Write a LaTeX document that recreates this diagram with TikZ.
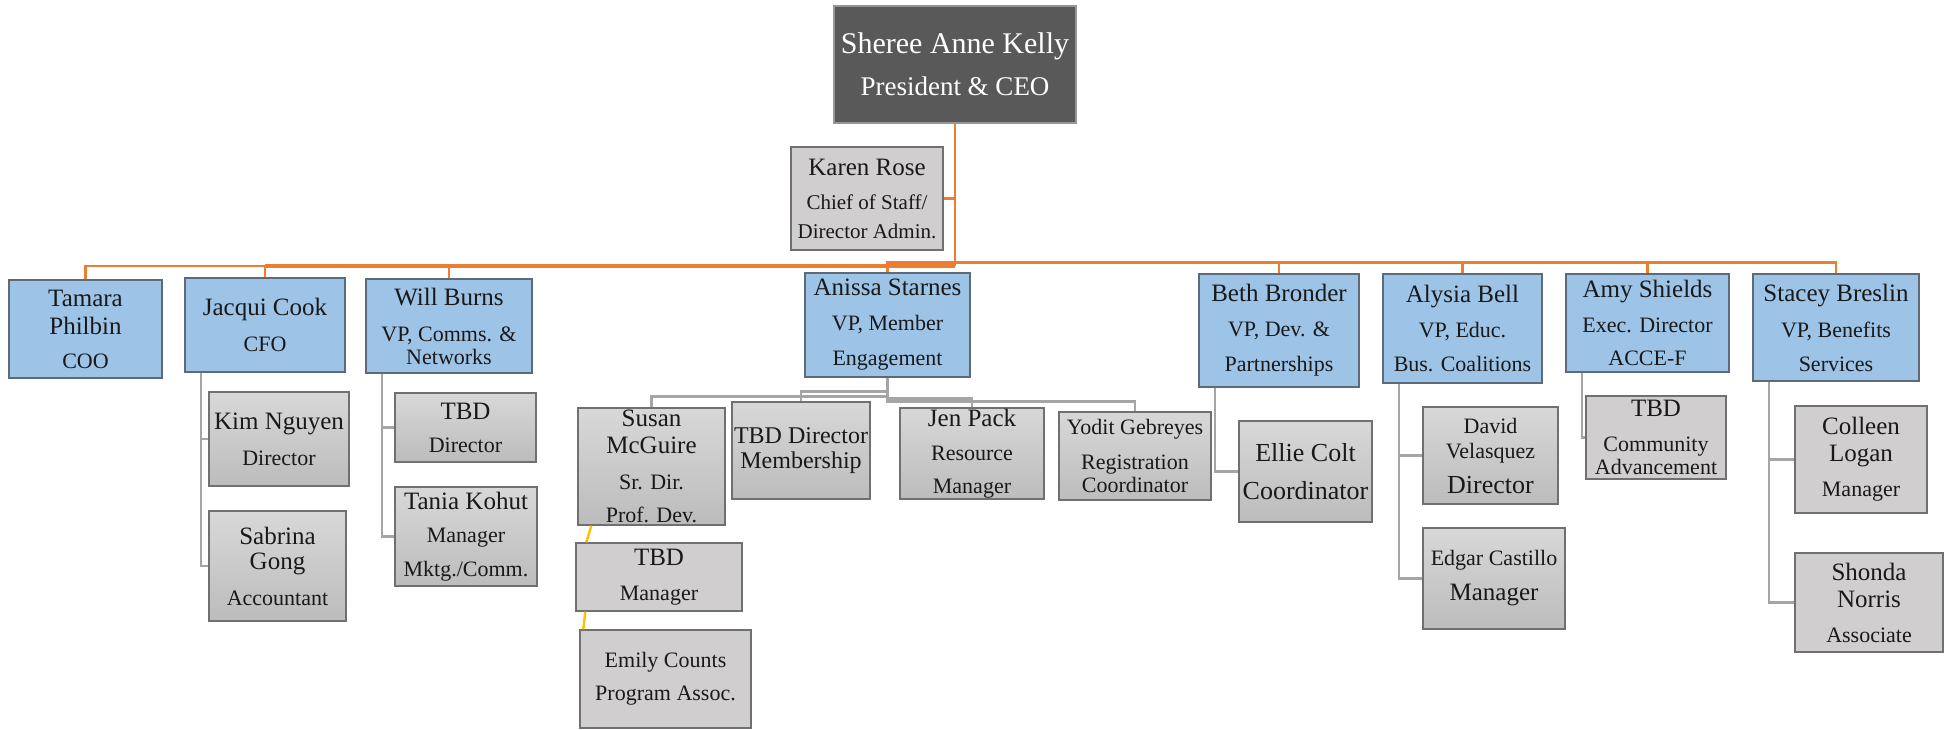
\documentclass[tikz,border=0pt]{standalone}
\usepackage{fontspec}
\setmainfont{Liberation Serif}
\usetikzlibrary{calc}
\definecolor{OrgBlue}{RGB}{157,195,230}
\definecolor{OrgBlueEdge}{RGB}{92,106,122}
\definecolor{BossGray}{RGB}{89,89,89}
\definecolor{BossEdge}{RGB}{150,150,150}
\definecolor{StaffTop}{RGB}{216,216,216}
\definecolor{StaffBottom}{RGB}{188,188,188}
\definecolor{StaffFlat}{RGB}{208,206,206}
\definecolor{StaffEdge}{RGB}{112,112,112}
\definecolor{LinkOrange}{RGB}{237,125,49}
\definecolor{LinkGray}{RGB}{165,165,165}
\definecolor{LinkGold}{RGB}{255,192,0}
\definecolor{InkBlack}{RGB}{25,25,25}
\newcommand{\tsz}{\fontsize{11}{12.5}\selectfont}
\newcommand{\bsz}{\fontsize{13}{12.5}\selectfont}
\newcommand{\orgbox}[7]{%
  \node[#2,minimum width={(#5-#3)*0.5pt},minimum height={(#6-#4)*0.5pt}] (#1) at ({(#3+#5)/2},{(#4+#6)/2}) {#7};}
\tikzset{
  orgnode/.style={rectangle,inner sep=0pt,align=center,text=InkBlack,line width=0.7pt,
    font=\fontsize{12.5}{12.5}\selectfont},
  ceobox/.style={orgnode,fill=BossGray,draw=BossEdge,text=white,font=\fontsize{15}{16}\selectfont},
  vpbox/.style={orgnode,fill=OrgBlue,draw=OrgBlueEdge},
  staffbox/.style={orgnode,top color=StaffTop,bottom color=StaffBottom,draw=StaffEdge},
  flatbox/.style={orgnode,fill=StaffFlat,draw=StaffEdge},
  orgline/.style={LinkOrange,line width=1.3pt},
  staffline/.style={LinkGray,line width=1.3pt},
  assistline/.style={LinkGold,line width=1.2pt}
}

\begin{document}
\begin{tikzpicture}[x=0.5pt,y=-0.5pt]
  \useasboundingbox (0,0) rectangle (1948,729);
  \orgbox{ceo}{ceobox}{834}{6}{1076}{123}{Sheree Anne Kelly\\[5pt]\fontsize{13.5}{16}\selectfont President \& CEO}
  \orgbox{karen}{flatbox}{791}{147}{943}{250}{Karen Rose\\[4.5pt]\fontsize{10.5}{12.5}\selectfont Chief of Staff/\\[2pt]\fontsize{10.5}{12.5}\selectfont Director Admin.}
  \orgbox{tamara}{vpbox}{9}{280}{162}{378}{Tamara\\[1.5pt]Philbin\\[4.5pt]\tsz COO}
  \orgbox{jacqui}{vpbox}{185}{278}{345}{372}{Jacqui Cook\\[5.5pt]\tsz CFO}
  \orgbox{will}{vpbox}{366}{279}{532}{373}{Will Burns\\[5.5pt]\tsz VP, Comms. \&\\[-1pt]\tsz Networks}
  \orgbox{anissa}{vpbox}{805}{273}{970}{377}{Anissa Starnes\\[5pt]\tsz VP, Member\\[5pt]\tsz Engagement}
  \orgbox{beth}{vpbox}{1199}{274}{1359}{387}{Beth Bronder\\[5pt]\tsz VP, Dev. \&\\[5pt]\tsz Partnerships}
  \orgbox{alysia}{vpbox}{1383}{274}{1542}{383}{Alysia Bell\\[5pt]\tsz VP, Educ.\\[4.5pt]\tsz Bus. Coalitions}
  \orgbox{amy}{vpbox}{1566}{274}{1729}{372}{Amy Shields\\[5pt]\tsz Exec. Director\\[4pt]\tsz ACCE-F}
  \orgbox{stacey}{vpbox}{1753}{274}{1919}{381}{Stacey Breslin\\[5.5pt]\tsz VP, Benefits\\[4.5pt]\tsz Services}
  \orgbox{kim}{staffbox}{209}{392}{349}{486}{Kim Nguyen\\[5.5pt]\tsz Director}
  \orgbox{sabrina}{staffbox}{209}{511}{346}{621}{Sabrina\\Gong\\[5.5pt]\tsz Accountant}
  \orgbox{tbddir}{staffbox}{395}{393}{536}{462}{TBD\\[4pt]\tsz Director}
  \orgbox{tania}{staffbox}{395}{487}{537}{586}{Tania Kohut\\[4pt]\tsz Manager\\[4.5pt]\tsz Mktg./Comm.}
  \orgbox{susan}{staffbox}{578}{408}{725}{525}{Susan\\[1pt]McGuire\\[5.5pt]\tsz Sr. Dir.\\[4pt]\tsz Prof. Dev.}
  \orgbox{tbdmemb}{staffbox}{732}{402}{870}{499}{\fontsize{12}{12.5}\selectfont TBD Director\\\fontsize{12}{12.5}\selectfont Membership}
  \orgbox{jen}{staffbox}{900}{408}{1044}{499}{Jen Pack\\[4.5pt]\tsz Resource\\[4pt]\tsz Manager}
  \orgbox{yodit}{staffbox}{1059}{412}{1211}{500}{\tsz Yodit Gebreyes\\[5pt]\tsz Registration\\[-1pt]\tsz Coordinator}
  \orgbox{tbdmgr}{flatbox}{576}{543}{742}{611}{TBD\\[5pt]\tsz Manager}
  \orgbox{emily}{flatbox}{580}{630}{751}{728}{\tsz Emily Counts\\[4pt]\tsz Program Assoc.}
  \orgbox{ellie}{staffbox}{1239}{421}{1372}{522}{\bsz Ellie Colt\\[6.5pt]\bsz Coordinator}
  \orgbox{david}{staffbox}{1423}{407}{1558}{504}{\tsz David\\\tsz Velasquez\\[5pt]\bsz Director}
  \orgbox{edgar}{staffbox}{1423}{528}{1565}{629}{\tsz Edgar Castillo\\[5pt]Manager}
  \orgbox{tbdca}{flatbox}{1586}{396}{1726}{479}{TBD\\[5pt]\tsz Community\\[-1pt]\tsz Advancement}
  \orgbox{colleen}{flatbox}{1795}{406}{1927}{513}{Colleen\\[1pt]Logan\\[5pt]\tsz Manager}
  \orgbox{shonda}{flatbox}{1795}{553}{1943}{652}{Shonda\\[1pt]Norris\\[5pt]\tsz Associate}

  \coordinate (busL) at (0,266);
  \coordinate (busR) at (0,262.5);
  \draw[orgline] (ceo.south) -- (ceo.south |- busL);
  \draw[orgline] (ceo.south |- karen.east) -- (karen.east);
  \draw[orgline,line width=2.2pt] (ceo.south |- busL) -- (jacqui.north |- busL);
  \draw[orgline] (jacqui.north |- busL) -| (tamara.north);
  \foreach \vp in {jacqui,will}
    \draw[orgline] (\vp.north |- busL) -- (\vp.north);
  \draw[orgline] (anissa.north) |- (stacey.north |- busR) -- (stacey.north);
  \foreach \vp in {beth,alysia,amy}
    \draw[orgline] (\vp.north |- busR) -- (\vp.north);

  \foreach \boss/\kid in {jacqui/kim,jacqui/sabrina,will/tbddir,will/tania,beth/ellie,
      alysia/david,alysia/edgar,amy/tbdca,stacey/colleen,stacey/shonda}
    \draw[staffline] (\boss.south west) ++(16.5,0) |- (\kid.west);
  \foreach \kid/\drop in {susan/19,tbdmemb/14,jen/21,yodit/23.5}
    \draw[staffline] (anissa.south) -- ++(0,\drop) -| (\kid.north);

  \draw[assistline] ($(susan.south west)+(14,0)$) -- ($(tbdmgr.north west)+(11,0)$);
  \draw[assistline] ($(tbdmgr.south west)+(10,0)$) -- ($(emily.north west)+(4,0)$);
\end{tikzpicture}
\end{document}
